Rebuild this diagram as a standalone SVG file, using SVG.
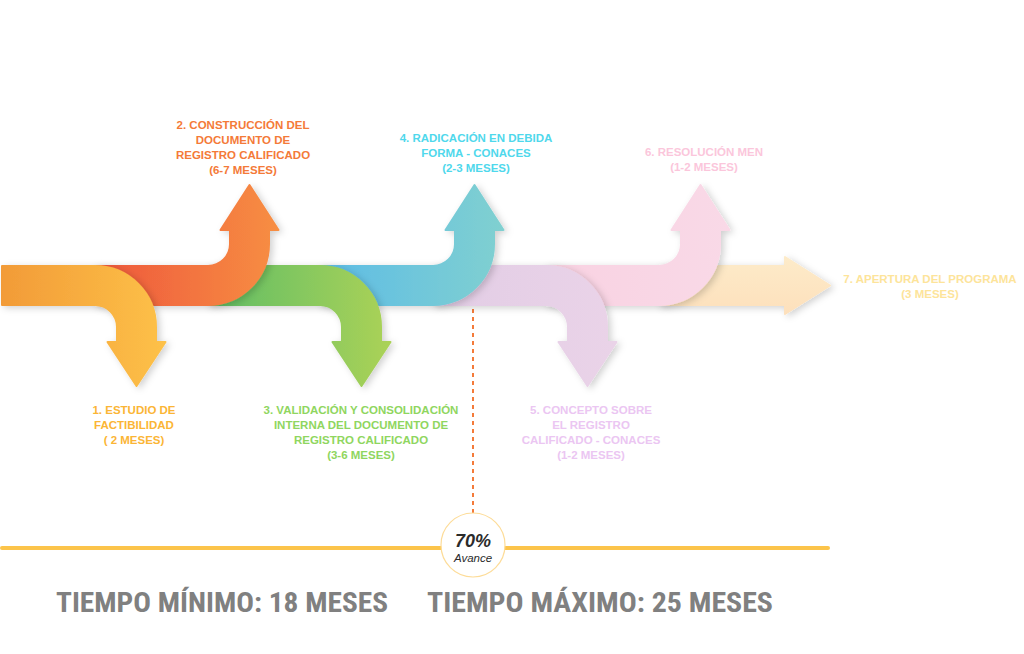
<svg xmlns="http://www.w3.org/2000/svg" width="1024" height="654" viewBox="0 0 1024 654">
<defs>
<linearGradient id="g1" x1="0" y1="0" x2="1" y2="0"><stop offset="0" stop-color="#f29b38"/><stop offset="1" stop-color="#fdc148"/></linearGradient>
<linearGradient id="g2" x1="0" y1="0" x2="1" y2="0"><stop offset="0" stop-color="#ee573c"/><stop offset="1" stop-color="#f78e43"/></linearGradient>
<linearGradient id="g3" x1="0" y1="0" x2="1" y2="0"><stop offset="0" stop-color="#5fbd66"/><stop offset="1" stop-color="#abd257"/></linearGradient>
<linearGradient id="g4" x1="0" y1="0" x2="1" y2="0"><stop offset="0" stop-color="#5dbce6"/><stop offset="1" stop-color="#80d0d0"/></linearGradient>
<linearGradient id="g5" x1="0" y1="0" x2="1" y2="0"><stop offset="0" stop-color="#e2cde5"/><stop offset="1" stop-color="#ead3e8"/></linearGradient>
<linearGradient id="g6" x1="0" y1="0" x2="1" y2="0"><stop offset="0" stop-color="#f9d2e2"/><stop offset="1" stop-color="#f9d9e7"/></linearGradient>
<linearGradient id="g7" x1="0" y1="0" x2="0" y2="1"><stop offset="0" stop-color="#fdebc9"/><stop offset="1" stop-color="#fde0bc"/></linearGradient>
<filter id="sh" x="-20%" y="-20%" width="140%" height="140%"><feDropShadow dx="3" dy="2" stdDeviation="3.5" flood-color="#000" flood-opacity="0.18"/></filter>
</defs>
<style>
.arr{filter:url(#sh);stroke-linejoin:round;stroke-width:2}
.lbl{font-family:"Liberation Sans",Arial,sans-serif;font-weight:bold;font-size:11.5px;text-anchor:middle}
.big{font-family:"Liberation Sans Narrow","Roboto Condensed","Liberation Sans",sans-serif;font-weight:bold;font-size:27px;fill:#808080}
</style>
<g id="connectors">
<path d="M473,293 V514" stroke="#f47b3a" stroke-width="2" stroke-dasharray="4 4" fill="none"/>
<path d="M2,548 H828" stroke="#fcc44a" stroke-width="4" stroke-linecap="round" fill="none"/>
</g>
<g id="step7">
<path class="arr" fill="url(#g7)" stroke="url(#g7)" d="M659,266 H785 V257 L830,285.5 L785,314 V305 H659 Z"/>
<text class="lbl" fill="#fde49a" x="930" y="283">7.  APERTURA DEL PROGRAMA</text>
<text class="lbl" fill="#fde49a" x="930" y="298">(3 MESES)</text>
</g>
<g id="step6">
<path class="arr" fill="url(#g6)" stroke="url(#g6)" d="M546,266 H659 A22,22 0 0 0 681,244 V230 H671.5 L700.5,185 L729.5,230 H720 V244 A61,61 0 0 1 659,305 H546 Z"/>
<text class="lbl" fill="#fbc6db" x="704" y="156">6. RESOLUCIÓN MEN</text>
<text class="lbl" fill="#fbc6db" x="704" y="171">(1-2 MESES)</text>
</g>
<g id="step5">
<path class="arr" fill="url(#g5)" stroke="url(#g5)" d="M433,266 H546 A61,61 0 0 1 607,327 V342 H616.5 L587.5,386 L558.5,342 H568 V327 A22,22 0 0 0 546,305 H433 Z"/>
<text class="lbl" fill="#ebc6f2" x="591" y="414">5.  CONCEPTO SOBRE</text>
<text class="lbl" fill="#ebc6f2" x="591" y="429">EL REGISTRO</text>
<text class="lbl" fill="#ebc6f2" x="591" y="444">CALIFICADO - CONACES</text>
<text class="lbl" fill="#ebc6f2" x="591" y="459">(1-2 MESES)</text>
</g>
<g id="step4">
<path class="arr" fill="url(#g4)" stroke="url(#g4)" d="M320,266 H433 A22,22 0 0 0 455,244 V230 H445.5 L474.5,185 L503.5,230 H494 V244 A61,61 0 0 1 433,305 H320 Z"/>
<text class="lbl" fill="#4fd8ec" x="476" y="142">4.  RADICACIÓN EN DEBIDA</text>
<text class="lbl" fill="#4fd8ec" x="476" y="157">FORMA - CONACES</text>
<text class="lbl" fill="#4fd8ec" x="476" y="172">(2-3 MESES)</text>
</g>
<g id="step3">
<path class="arr" fill="url(#g3)" stroke="url(#g3)" d="M208,266 H320 A61,61 0 0 1 381,327 V342 H390.5 L361.5,386 L332.5,342 H342 V327 A22,22 0 0 0 320,305 H208 Z"/>
<text class="lbl" fill="#8fd660" x="361" y="414">3.  VALIDACIÓN Y CONSOLIDACIÓN</text>
<text class="lbl" fill="#8fd660" x="361" y="429">INTERNA DEL DOCUMENTO DE</text>
<text class="lbl" fill="#8fd660" x="361" y="444">REGISTRO CALIFICADO</text>
<text class="lbl" fill="#8fd660" x="361" y="459">(3-6 MESES)</text>
</g>
<g id="step2">
<path class="arr" fill="url(#g2)" stroke="url(#g2)" d="M95,266 H208 A22,22 0 0 0 230,244 V230 H220.5 L249.5,185 L278.5,230 H269 V244 A61,61 0 0 1 208,305 H95 Z"/>
<text class="lbl" fill="#f47a38" x="243" y="129">2. CONSTRUCCIÓN DEL</text>
<text class="lbl" fill="#f47a38" x="243" y="144">DOCUMENTO DE</text>
<text class="lbl" fill="#f47a38" x="243" y="159">REGISTRO CALIFICADO</text>
<text class="lbl" fill="#f47a38" x="243" y="174">(6-7 MESES)</text>
</g>
<g id="step1">
<path class="arr" fill="url(#g1)" stroke="url(#g1)" d="M2,266 H95 A61,61 0 0 1 156,327 V342 H165.5 L136.5,386 L107.5,342 H117 V327 A22,22 0 0 0 95,305 H2 Z"/>
<text class="lbl" fill="#fbb535" x="134" y="414">1.  ESTUDIO DE</text>
<text class="lbl" fill="#fbb535" x="134" y="429">FACTIBILIDAD</text>
<text class="lbl" fill="#fbb535" x="134" y="444">( 2 MESES)</text>
</g>
<g id="progress">
<circle cx="473" cy="545" r="32" fill="#fff" stroke="#fddc98" stroke-width="1.2"/>
<text x="473" y="547" text-anchor="middle" font-family="'Liberation Sans',Arial,sans-serif" font-weight="bold" font-style="italic" font-size="18" fill="#2b2b2b">70%</text>
<text x="473" y="562" text-anchor="middle" font-family="'Liberation Sans',Arial,sans-serif" font-style="italic" font-size="11.5" fill="#2b2b2b">Avance</text>
</g>
<g id="totals">
<text class="big" x="56" y="612" textLength="332" lengthAdjust="spacingAndGlyphs">TIEMPO MÍNIMO: 18 MESES</text>
<text class="big" x="427" y="612" textLength="346" lengthAdjust="spacingAndGlyphs">TIEMPO MÁXIMO: 25 MESES</text>
</g>
</svg>
